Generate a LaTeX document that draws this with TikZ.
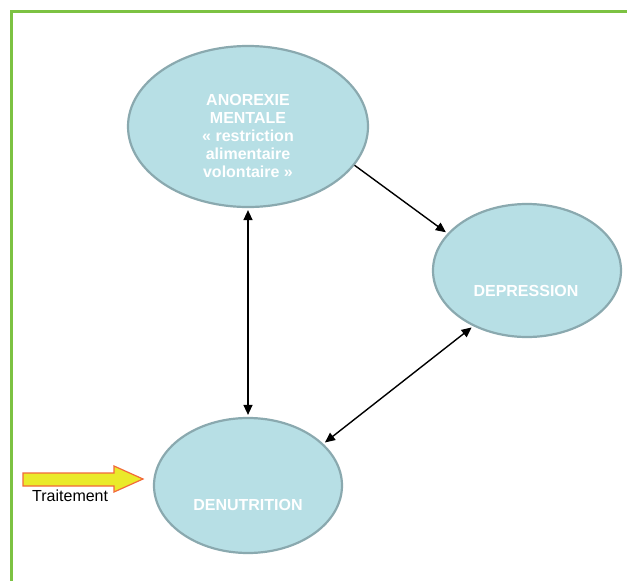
\documentclass[tikz,border=0pt]{standalone}
\usepackage{fontspec}
\setmainfont{Liberation Sans}
\usetikzlibrary{shapes.geometric,arrows.meta}
\definecolor{ellfill}{HTML}{B7DFE5}
\definecolor{elldraw}{HTML}{8AA9AF}
\definecolor{framegreen}{HTML}{7CC242}
\definecolor{arrowyellow}{HTML}{EAEA2A}
\definecolor{arroworange}{HTML}{F26A3A}
\tikzset{
  bubble/.style={ellipse, fill=ellfill, draw=elldraw, line width=2.2pt, inner sep=0pt},
  bubbletext/.style={text=white, font=\fontsize{16}{18}\selectfont\bfseries, align=center, inner sep=0pt},
  link/.style={line width=1.4pt, shorten >=2pt, -{Triangle[length=10pt,width=9pt]}},
  dlink/.style={line width=1.4pt, shorten >=2pt, shorten <=2pt, {Triangle[length=10pt,width=9pt]}-{Triangle[length=10pt,width=9pt]}},
  plain/.style={font=\fontsize{16}{18}\selectfont, inner sep=0pt}
}
\begin{document}
\begin{tikzpicture}[x=1pt,y=-1pt]
\useasboundingbox (0,0) rectangle (627,581);
\fill[white] (0,0) rectangle (627,581);
\begin{scope}
\clip (0,0) rectangle (627,581);
\draw[framegreen, line width=3pt] (11.5,11.5) rectangle (700,700);
\end{scope}
\node[bubble, minimum width=240pt, minimum height=161pt] (ano) at (248,126.5) {};
\node[bubble, minimum width=188pt, minimum height=133pt] (dep) at (527,270.5) {};
\node[bubble, minimum width=188pt, minimum height=135pt] (den) at (248,485.5) {};
\node[bubbletext] (anotext) at (248,136) {ANOREXIE\\MENTALE\\« restriction\\alimentaire\\volontaire »};
\node[bubbletext] (deptext) at (526,291) {DEPRESSION};
\node[bubbletext] (dentext) at (248,505) {DENUTRITION};
\draw[link] (ano.-20) -- (dep.155);
\draw[dlink] (ano.south) -- (den.north);
\draw[dlink] (dep.226) -- (den.29);
\coordinate (tip) at (143,479);
\draw[fill=arrowyellow, draw=arroworange, line width=1.2pt, line join=miter]
  (23,473) -- (114,473) -- (114,466) -- (tip) -- (114,492) -- (114,486) -- (23,486) -- cycle;
\node[plain, anchor=base west] (trait) at (32,501) {Traitement};
\end{tikzpicture}
\end{document}
